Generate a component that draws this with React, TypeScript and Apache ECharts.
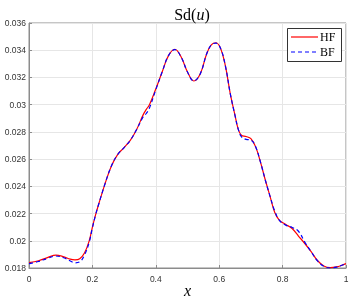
import React, { useEffect, useRef } from "react";
import * as echarts from "echarts";

const xs = [0, 0.03, 0.06, 0.085, 0.11, 0.13, 0.145, 0.16, 0.175, 0.19, 0.2, 0.21, 0.22, 0.24, 0.26, 0.28, 0.3, 0.32, 0.34, 0.36, 0.37, 0.38, 0.4, 0.42, 0.44, 0.46, 0.48, 0.5, 0.52, 0.54, 0.56, 0.575, 0.59, 0.605, 0.62, 0.635, 0.65, 0.66, 0.67, 0.685, 0.7, 0.715, 0.73, 0.745, 0.76, 0.775, 0.79, 0.81, 0.83, 0.85, 0.87, 0.89, 0.91, 0.93, 0.95, 0.97, 0.985, 1.0];
const hf = [0.0184, 0.01853, 0.01878, 0.01895, 0.01882, 0.01865, 0.0186, 0.01868, 0.0191, 0.02, 0.021, 0.0219, 0.0227, 0.0242, 0.0255, 0.02635, 0.02685, 0.0274, 0.0282, 0.02925, 0.02965, 0.03, 0.03115, 0.0324, 0.0336, 0.03407, 0.0335, 0.0324, 0.03174, 0.03225, 0.0337, 0.0344, 0.03455, 0.0341, 0.0328, 0.0308, 0.0292, 0.0282, 0.02775, 0.02766, 0.0275, 0.0269, 0.0258, 0.0245, 0.0233, 0.0221, 0.0215, 0.0212, 0.0209, 0.02035, 0.0198, 0.0192, 0.01855, 0.01815, 0.01803, 0.01808, 0.01818, 0.01832];
const bf = [0.01832, 0.01848, 0.01872, 0.01888, 0.01875, 0.01852, 0.01838, 0.01845, 0.01895, 0.0199, 0.02095, 0.0219, 0.0227, 0.0242, 0.0255, 0.02635, 0.02685, 0.0274, 0.0282, 0.0291, 0.02935, 0.02975, 0.0311, 0.0324, 0.0336, 0.03405, 0.0335, 0.0324, 0.03174, 0.03225, 0.0337, 0.0344, 0.03452, 0.0341, 0.0328, 0.0308, 0.0292, 0.0282, 0.02765, 0.02745, 0.0274, 0.0269, 0.0258, 0.0245, 0.0233, 0.0222, 0.0215, 0.02115, 0.02098, 0.0207, 0.0199, 0.0192, 0.01852, 0.01812, 0.018, 0.01806, 0.01818, 0.01832];
const seriesNames = ["HF", "BF"];
const seriesColors = ["#ff0000", "#0000ff"];

export default function App() {
  const ref = useRef<HTMLDivElement>(null);
  useEffect(() => {
    const chart = echarts.init(ref.current!, null, { renderer: "svg" });
    const axisLine = { lineStyle: { color: "#8c8c8c", width: 1 } };
    const serif = "Liberation Serif, DejaVu Serif, serif";
    const lx = 287, ly = 28, lw = 54, lh = 33;
    chart.setOption({
      animation: false,
      title: {
        text: "Sd({i|u})",
        left: 187,
        textAlign: "center",
        top: 1,
        textStyle: {
          fontFamily: serif, fontSize: 16, fontWeight: "normal", color: "#000",
          rich: { i: { fontFamily: serif, fontStyle: "italic", fontSize: 16, color: "#000" } },
        },
      },
      grid: {
        left: 29, right: 3, top: 23, bottom: 32, show: true, borderColor: "#8c8c8c", borderWidth: 1,
        containLabel: false, outerBoundsMode: "none",
      },
      graphic: [
        { type: "rect", left: lx, top: ly, shape: { width: lw, height: lh }, style: { fill: "#fff", stroke: "#333", lineWidth: 1 }, z: 100 },
        { type: "line", shape: { x1: lx + 4, y1: ly + 9, x2: lx + 31, y2: ly + 9 }, style: { stroke: seriesColors[0], lineWidth: 1.2 }, z: 101 },
        { type: "line", shape: { x1: lx + 4, y1: ly + 24, x2: lx + 31, y2: ly + 24 }, style: { stroke: seriesColors[1], lineWidth: 1.2, lineDash: [4, 3] }, z: 101 },
        { type: "text", x: lx + 33, y: ly + 9, style: { text: seriesNames[0], font: "12px " + serif, fill: "#000", verticalAlign: "middle" }, z: 101 },
        { type: "text", x: lx + 33, y: ly + 24, style: { text: seriesNames[1], font: "12px " + serif, fill: "#000", verticalAlign: "middle" }, z: 101 },
      ],
      xAxis: {
        type: "value",
        min: 0,
        max: 1,
        interval: 0.2,
        name: "x",
        nameLocation: "middle",
        nameGap: 15,
        nameMoveOverlap: false,
        nameTextStyle: { fontFamily: serif, fontStyle: "italic", fontSize: 16, color: "#000", lineHeight: 15 },
        axisLine,
        axisTick: { inside: true, length: 3, lineStyle: { color: "#8c8c8c" } },
        splitLine: { show: true, lineStyle: { color: "#e6e6e6" } },
        axisLabel: {
          fontSize: 8.5, color: "#333", margin: 6, fontFamily: "Liberation Sans, sans-serif",
          showMaxLabel: true, showMinLabel: true, hideOverlap: false,
          formatter: (v: number) => String(+v.toFixed(1)),
        },
      },
      yAxis: {
        type: "value",
        min: 0.018,
        max: 0.036,
        interval: 0.002,
        axisLine: { show: true, ...axisLine },
        axisTick: { show: true, inside: true, length: 3, lineStyle: { color: "#8c8c8c" } },
        splitLine: { show: true, lineStyle: { color: "#e6e6e6" } },
        axisLabel: {
          fontSize: 8.5, color: "#333", margin: 3, fontFamily: "Liberation Sans, sans-serif",
          showMaxLabel: true, showMinLabel: true,
          formatter: (v: number) => String(+v.toFixed(3)),
        },
      },
      series: [
        {
          name: seriesNames[0],
          type: "line",
          data: xs.map((x, i) => [x, hf[i]]),
          smooth: 0.4,
          showSymbol: false,
          lineStyle: { color: seriesColors[0], width: 1.2 },
          itemStyle: { color: seriesColors[0] },
          z: 3,
        },
        {
          name: seriesNames[1],
          type: "line",
          data: xs.map((x, i) => [x, bf[i]]),
          smooth: 0.4,
          showSymbol: false,
          lineStyle: { color: seriesColors[1], width: 1.2, type: [4, 3] },
          itemStyle: { color: seriesColors[1] },
          z: 4,
        },
      ],
    });
    return () => chart.dispose();
  }, []);
  return <div ref={ref} style={{ position: "fixed", left: 0, top: 0, width: 349, height: 300 }} />;
}
